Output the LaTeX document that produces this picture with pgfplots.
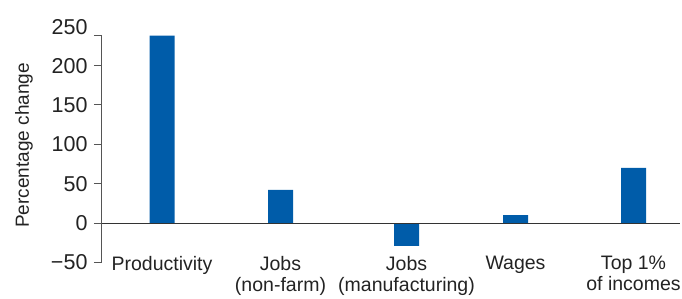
\documentclass[border=0pt]{standalone}
\usepackage{fontspec}
\setmainfont{Liberation Sans}
\usepackage{pgfplots}
\pgfplotsset{compat=1.18}
\definecolor{barblue}{RGB}{0,92,169}
\definecolor{axisgrey}{RGB}{85,85,85}
\definecolor{txt}{RGB}{35,35,35}
\begin{document}
\begin{tikzpicture}
\begin{axis}[
  name=ax,
  scale only axis, width=578pt, height=226.7pt,
  xmin=102, xmax=680, ymin=-50, ymax=238,
  clip=false,
  axis y line*=left, axis x line*=bottom,
  x axis line style={draw=none},
  y axis line style={axisgrey, line width=1pt},
  tick align=outside, major tick length=8pt,
  y tick style={axisgrey, line width=1pt},
  x tick style={draw=none},
  ytick={-50,0,50,100,150,200},
  yticklabels={−50,0,50,100,150,200},
  extra y ticks={238}, extra y tick labels={250},
  extra y tick style={yticklabel style={yshift=9pt}},
  yticklabel style={font=\fontsize{21.5}{24}\selectfont, text=txt, xshift=-3pt},
  xtick={162,280.5,406.5,515.5,633.5},
  xticklabels={Productivity, Jobs\\(non-farm), Jobs\\(manufacturing), Wages, Top 1\%\\of incomes},
  xticklabel style={align=center, font=\fontsize{19.5}{21.5}\selectfont, text=txt, anchor=north, yshift=18pt},
  ylabel={Percentage change},
  ylabel style={font=\fontsize{19}{22}\selectfont, text=txt, at={([xshift=-78pt]axis description cs:0,0.516)}, anchor=center},
]
\addplot[ybar, bar width=25pt, fill=barblue, draw=none] coordinates {
  (162,238) (280.5,42) (406.5,-29) (515.5,10) (633.5,70)
};
\draw[black!80, line width=1pt] (axis cs:102,0) -- (axis cs:680,0);
\end{axis}
\pgfresetboundingbox
\path ([xshift=-102pt, yshift=-35.6pt]ax.south west) rectangle ([xshift=2pt, yshift=35.7pt]ax.north east);
\end{tikzpicture}
\end{document}
